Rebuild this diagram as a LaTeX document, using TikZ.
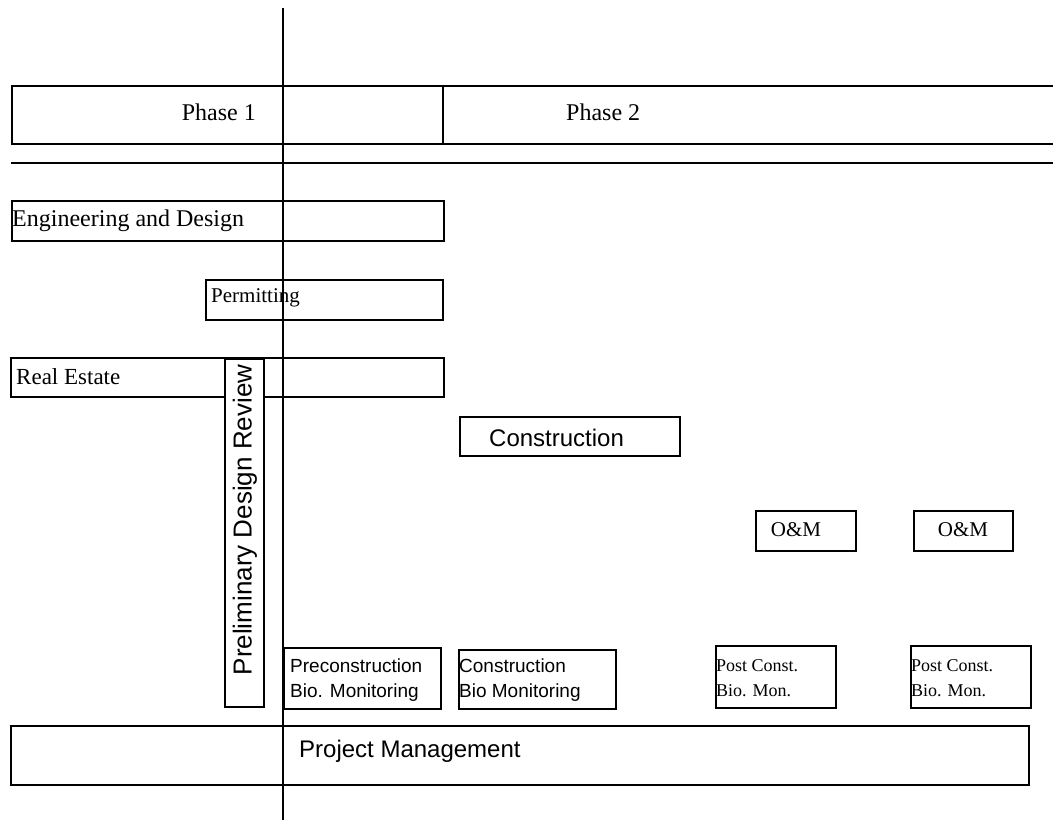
\documentclass[tikz,border=0pt]{standalone}
\usepackage{fontspec}
\setmainfont{Liberation Serif}
\newfontfamily\optima{Liberation Sans}
\begin{document}
\begin{tikzpicture}[x=1pt,y=-1pt,
  box/.style={draw, line width=2pt, fill=white, inner sep=0pt, anchor=north west},
  lbl/.style={inner sep=0pt, anchor=west},
  rule/.style={line width=2pt}]
\useasboundingbox (0,0) rectangle (1053,824);
% phase header
\node[box, minimum width=1045pt, minimum height=58pt] (phase) at (11,85) {};
\coordinate (divtop) at (443,85);
\coordinate (divbot) at (443,143);
\draw[line width=1.3pt] (divtop) -- (divbot);
\node[inner sep=0pt, anchor=east, font=\fontsize{24}{26}\selectfont] (p1) at (256,112) {Phase 1};
\node[lbl, font=\fontsize{24}{26}\selectfont] (p2) at (566,112) {Phase 2};
\coordinate (hl1) at (11,163);
\coordinate (hl2) at (1053,163);
\draw[rule] (hl1) -- (hl2);
% bars
\node[box, minimum width=432pt, minimum height=40pt] (ed) at (11,200) {};
\node[lbl, font=\fontsize{24}{26}\selectfont] (edt) at (12,221) {Engineering and Design};
\node[box, minimum width=237pt, minimum height=40pt] (perm) at (205,279) {};
\node[lbl, font=\fontsize{21}{24}\selectfont] (permt) at (211,298) {Permitting};
\node[box, minimum width=433pt, minimum height=39pt] (re) at (10,357) {};
\node[lbl, font=\fontsize{23}{24}\selectfont] (ret) at (16,377) {Real Estate};
\node[box, minimum width=39pt, minimum height=348pt] (pdr) at (224,358) {};
\node[inner sep=0pt, rotate=90, font=\optima\fontsize{26}{28}\selectfont] (pdrt) at (245,520) {Preliminary Design Review};
\node[box, minimum width=220pt, minimum height=39pt] (con) at (459,416) {};
\node[lbl, font=\optima\fontsize{24}{26}\selectfont] (cont) at (489,438) {Construction};
\node[box, minimum width=100pt, minimum height=40pt] (om1) at (755,510) {};
\node[font=\fontsize{21}{22}\selectfont, inner sep=0pt] (om1t) at (796,530) {O\&M};
\node[box, minimum width=99pt, minimum height=40pt] (om2) at (913,510) {};
\node[font=\fontsize{21}{22}\selectfont, inner sep=0pt] (om2t) at (963,530) {O\&M};
% monitoring boxes
\tikzset{mon/.style={inner sep=0pt, anchor=north west, align=left, font=\optima\fontsize{19}{25}\selectfont}}
\node[box, minimum width=157pt, minimum height=61pt] (pre) at (283,647) {};
\node[mon] (pret) at (290,659) {Preconstruction\\Bio. Monitoring};
\node[box, minimum width=157pt, minimum height=59pt] (cbm) at (458,649) {};
\node[mon] (cbmt) at (459,659) {Construction\\Bio Monitoring};
\node[box, minimum width=120pt, minimum height=62pt] (pc1) at (715,645) {};
\node[mon, font=\fontsize{18}{25}\selectfont] (pc1t) at (716,659) {Post Const.\\Bio. Mon.};
\node[box, minimum width=120pt, minimum height=62pt] (pc2) at (910,645) {};
\node[mon, font=\fontsize{18}{25}\selectfont] (pc2t) at (911,659) {Post Const.\\Bio. Mon.};
% project management
\node[box, minimum width=1018pt, minimum height=59pt] (pm) at (10,725) {};
\node[lbl, font=\optima\fontsize{24}{26}\selectfont] (pmt) at (299,751) {Project Management};
% vertical time line
\coordinate (vtop) at (283,8);
\coordinate (vbot) at (283,820);
\draw[line width=1.5pt] (vtop) -- (vbot);
\end{tikzpicture}
\end{document}
